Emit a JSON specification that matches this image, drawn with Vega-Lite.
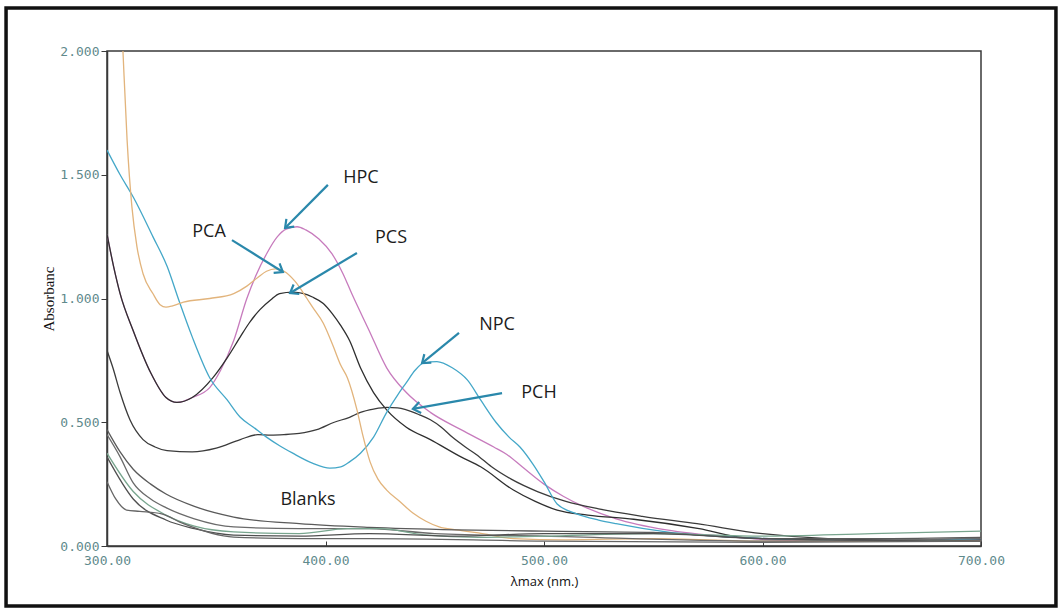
{
  "$schema": "https://vega.github.io/schema/vega-lite/v6.json",
  "width": 874,
  "height": 495,
  "autosize": {"type": "pad"},
  "padding": {"left": 4, "top": 6, "right": 4, "bottom": 6},
  "background": "white",
  "config": {
    "view": {"stroke": "#3a3a3a", "strokeWidth": 1.5},
    "axis": {"grid": false, "domainColor": "#3a3a3a", "tickColor": "#3a3a3a", "domainWidth": 1.5}
  },
  "datasets": {
    "spectra": [
      {"s": "HPC", "nm": 300, "a": 1.26}, {"s": "HPC", "nm": 303, "a": 1.13}, {"s": "HPC", "nm": 306, "a": 1.02}, {"s": "HPC", "nm": 312, "a": 0.87}, {"s": "HPC", "nm": 320, "a": 0.70}, {"s": "HPC", "nm": 327, "a": 0.60}, {"s": "HPC", "nm": 332, "a": 0.58}, {"s": "HPC", "nm": 339, "a": 0.60}, {"s": "HPC", "nm": 347, "a": 0.64}, {"s": "HPC", "nm": 352, "a": 0.71}, {"s": "HPC", "nm": 358, "a": 0.83}, {"s": "HPC", "nm": 364, "a": 1.00}, {"s": "HPC", "nm": 368, "a": 1.09}, {"s": "HPC", "nm": 373, "a": 1.18}, {"s": "HPC", "nm": 378, "a": 1.25}, {"s": "HPC", "nm": 382, "a": 1.28}, {"s": "HPC", "nm": 387, "a": 1.29}, {"s": "HPC", "nm": 391, "a": 1.277}, {"s": "HPC", "nm": 397, "a": 1.24}, {"s": "HPC", "nm": 403, "a": 1.18}, {"s": "HPC", "nm": 408, "a": 1.10}, {"s": "HPC", "nm": 412, "a": 1.02}, {"s": "HPC", "nm": 420, "a": 0.87}, {"s": "HPC", "nm": 428, "a": 0.72}, {"s": "HPC", "nm": 437, "a": 0.62}, {"s": "HPC", "nm": 448, "a": 0.54}, {"s": "HPC", "nm": 462, "a": 0.47}, {"s": "HPC", "nm": 477, "a": 0.40}, {"s": "HPC", "nm": 483, "a": 0.37}, {"s": "HPC", "nm": 490, "a": 0.32}, {"s": "HPC", "nm": 500, "a": 0.25}, {"s": "HPC", "nm": 509, "a": 0.20}, {"s": "HPC", "nm": 518, "a": 0.16}, {"s": "HPC", "nm": 533, "a": 0.11}, {"s": "HPC", "nm": 556, "a": 0.065}, {"s": "HPC", "nm": 586, "a": 0.036}, {"s": "HPC", "nm": 607, "a": 0.024}, {"s": "HPC", "nm": 640, "a": 0.02}, {"s": "HPC", "nm": 670, "a": 0.02}, {"s": "HPC", "nm": 700, "a": 0.025},

      {"s": "PCS", "nm": 300, "a": 1.26}, {"s": "PCS", "nm": 303, "a": 1.13}, {"s": "PCS", "nm": 306, "a": 1.02}, {"s": "PCS", "nm": 312, "a": 0.87}, {"s": "PCS", "nm": 320, "a": 0.70}, {"s": "PCS", "nm": 327, "a": 0.60}, {"s": "PCS", "nm": 332, "a": 0.58}, {"s": "PCS", "nm": 339, "a": 0.60}, {"s": "PCS", "nm": 348.5, "a": 0.68}, {"s": "PCS", "nm": 355, "a": 0.76}, {"s": "PCS", "nm": 361, "a": 0.845}, {"s": "PCS", "nm": 365, "a": 0.90}, {"s": "PCS", "nm": 370, "a": 0.955}, {"s": "PCS", "nm": 375, "a": 0.995}, {"s": "PCS", "nm": 379, "a": 1.02}, {"s": "PCS", "nm": 385, "a": 1.026}, {"s": "PCS", "nm": 390, "a": 1.02}, {"s": "PCS", "nm": 394, "a": 1.006}, {"s": "PCS", "nm": 399, "a": 0.98}, {"s": "PCS", "nm": 403, "a": 0.94}, {"s": "PCS", "nm": 407, "a": 0.89}, {"s": "PCS", "nm": 411, "a": 0.83}, {"s": "PCS", "nm": 416, "a": 0.72}, {"s": "PCS", "nm": 422, "a": 0.62}, {"s": "PCS", "nm": 428, "a": 0.55}, {"s": "PCS", "nm": 437, "a": 0.48}, {"s": "PCS", "nm": 448, "a": 0.43}, {"s": "PCS", "nm": 462, "a": 0.36}, {"s": "PCS", "nm": 471, "a": 0.32}, {"s": "PCS", "nm": 486, "a": 0.226}, {"s": "PCS", "nm": 496, "a": 0.18}, {"s": "PCS", "nm": 506, "a": 0.145}, {"s": "PCS", "nm": 520, "a": 0.125}, {"s": "PCS", "nm": 541, "a": 0.108}, {"s": "PCS", "nm": 571, "a": 0.07}, {"s": "PCS", "nm": 591, "a": 0.035}, {"s": "PCS", "nm": 620, "a": 0.025}, {"s": "PCS", "nm": 660, "a": 0.02}, {"s": "PCS", "nm": 700, "a": 0.025},

      {"s": "PCH", "nm": 300, "a": 0.79}, {"s": "PCH", "nm": 302.7, "a": 0.72}, {"s": "PCH", "nm": 306, "a": 0.62}, {"s": "PCH", "nm": 310.5, "a": 0.51}, {"s": "PCH", "nm": 316.5, "a": 0.43}, {"s": "PCH", "nm": 322, "a": 0.40}, {"s": "PCH", "nm": 327.5, "a": 0.385}, {"s": "PCH", "nm": 339, "a": 0.38}, {"s": "PCH", "nm": 350, "a": 0.395}, {"s": "PCH", "nm": 361, "a": 0.43}, {"s": "PCH", "nm": 369, "a": 0.45}, {"s": "PCH", "nm": 375, "a": 0.448}, {"s": "PCH", "nm": 381, "a": 0.45}, {"s": "PCH", "nm": 388, "a": 0.455}, {"s": "PCH", "nm": 396, "a": 0.47}, {"s": "PCH", "nm": 404, "a": 0.50}, {"s": "PCH", "nm": 411, "a": 0.52}, {"s": "PCH", "nm": 416, "a": 0.54}, {"s": "PCH", "nm": 422, "a": 0.553}, {"s": "PCH", "nm": 428, "a": 0.56}, {"s": "PCH", "nm": 433, "a": 0.558}, {"s": "PCH", "nm": 437, "a": 0.55}, {"s": "PCH", "nm": 443, "a": 0.53}, {"s": "PCH", "nm": 448, "a": 0.51}, {"s": "PCH", "nm": 453, "a": 0.48}, {"s": "PCH", "nm": 458, "a": 0.44}, {"s": "PCH", "nm": 464, "a": 0.40}, {"s": "PCH", "nm": 469, "a": 0.37}, {"s": "PCH", "nm": 476, "a": 0.32}, {"s": "PCH", "nm": 485, "a": 0.27}, {"s": "PCH", "nm": 497, "a": 0.22}, {"s": "PCH", "nm": 510, "a": 0.18}, {"s": "PCH", "nm": 525, "a": 0.15}, {"s": "PCH", "nm": 545, "a": 0.12}, {"s": "PCH", "nm": 570, "a": 0.09}, {"s": "PCH", "nm": 600, "a": 0.05}, {"s": "PCH", "nm": 630, "a": 0.03}, {"s": "PCH", "nm": 660, "a": 0.025}, {"s": "PCH", "nm": 700, "a": 0.03},

      {"s": "NPC", "nm": 300, "a": 1.60}, {"s": "NPC", "nm": 306, "a": 1.50}, {"s": "NPC", "nm": 312, "a": 1.41}, {"s": "NPC", "nm": 321, "a": 1.25}, {"s": "NPC", "nm": 327.5, "a": 1.13}, {"s": "NPC", "nm": 333, "a": 0.99}, {"s": "NPC", "nm": 339, "a": 0.845}, {"s": "NPC", "nm": 347, "a": 0.68}, {"s": "NPC", "nm": 355, "a": 0.59}, {"s": "NPC", "nm": 361, "a": 0.52}, {"s": "NPC", "nm": 367, "a": 0.48}, {"s": "NPC", "nm": 373, "a": 0.44}, {"s": "NPC", "nm": 379, "a": 0.405}, {"s": "NPC", "nm": 385, "a": 0.375}, {"s": "NPC", "nm": 394, "a": 0.335}, {"s": "NPC", "nm": 402, "a": 0.315}, {"s": "NPC", "nm": 407, "a": 0.32}, {"s": "NPC", "nm": 411, "a": 0.34}, {"s": "NPC", "nm": 416, "a": 0.375}, {"s": "NPC", "nm": 422, "a": 0.44}, {"s": "NPC", "nm": 428, "a": 0.54}, {"s": "NPC", "nm": 433, "a": 0.61}, {"s": "NPC", "nm": 437, "a": 0.66}, {"s": "NPC", "nm": 441, "a": 0.71}, {"s": "NPC", "nm": 445, "a": 0.74}, {"s": "NPC", "nm": 451, "a": 0.745}, {"s": "NPC", "nm": 458, "a": 0.72}, {"s": "NPC", "nm": 465, "a": 0.67}, {"s": "NPC", "nm": 471, "a": 0.59}, {"s": "NPC", "nm": 478, "a": 0.50}, {"s": "NPC", "nm": 484, "a": 0.44}, {"s": "NPC", "nm": 489, "a": 0.40}, {"s": "NPC", "nm": 495, "a": 0.33}, {"s": "NPC", "nm": 500, "a": 0.26}, {"s": "NPC", "nm": 506, "a": 0.17}, {"s": "NPC", "nm": 515, "a": 0.13}, {"s": "NPC", "nm": 525, "a": 0.105}, {"s": "NPC", "nm": 533, "a": 0.09}, {"s": "NPC", "nm": 556, "a": 0.057}, {"s": "NPC", "nm": 586, "a": 0.036}, {"s": "NPC", "nm": 620, "a": 0.025}, {"s": "NPC", "nm": 660, "a": 0.02}, {"s": "NPC", "nm": 700, "a": 0.03},

      {"s": "PCA", "nm": 305.3, "a": 2.4}, {"s": "PCA", "nm": 307.3, "a": 2.0}, {"s": "PCA", "nm": 309.2, "a": 1.64}, {"s": "PCA", "nm": 311.4, "a": 1.37}, {"s": "PCA", "nm": 313.7, "a": 1.21}, {"s": "PCA", "nm": 316.5, "a": 1.10}, {"s": "PCA", "nm": 321, "a": 1.02}, {"s": "PCA", "nm": 324.3, "a": 0.975}, {"s": "PCA", "nm": 327, "a": 0.965}, {"s": "PCA", "nm": 330, "a": 0.97}, {"s": "PCA", "nm": 335, "a": 0.985}, {"s": "PCA", "nm": 347, "a": 1.0}, {"s": "PCA", "nm": 358, "a": 1.02}, {"s": "PCA", "nm": 364, "a": 1.05}, {"s": "PCA", "nm": 369, "a": 1.085}, {"s": "PCA", "nm": 373, "a": 1.11}, {"s": "PCA", "nm": 377, "a": 1.12}, {"s": "PCA", "nm": 381, "a": 1.11}, {"s": "PCA", "nm": 386, "a": 1.07}, {"s": "PCA", "nm": 391.5, "a": 1.0}, {"s": "PCA", "nm": 394, "a": 0.966}, {"s": "PCA", "nm": 399, "a": 0.90}, {"s": "PCA", "nm": 403.4, "a": 0.81}, {"s": "PCA", "nm": 407, "a": 0.73}, {"s": "PCA", "nm": 410, "a": 0.68}, {"s": "PCA", "nm": 414.4, "a": 0.55}, {"s": "PCA", "nm": 417, "a": 0.45}, {"s": "PCA", "nm": 420.4, "a": 0.34}, {"s": "PCA", "nm": 424, "a": 0.27}, {"s": "PCA", "nm": 428, "a": 0.226}, {"s": "PCA", "nm": 434, "a": 0.18}, {"s": "PCA", "nm": 440, "a": 0.133}, {"s": "PCA", "nm": 446, "a": 0.10}, {"s": "PCA", "nm": 452, "a": 0.077}, {"s": "PCA", "nm": 460, "a": 0.065}, {"s": "PCA", "nm": 470, "a": 0.053}, {"s": "PCA", "nm": 486, "a": 0.03}, {"s": "PCA", "nm": 510, "a": 0.025}, {"s": "PCA", "nm": 550, "a": 0.03}, {"s": "PCA", "nm": 600, "a": 0.02}, {"s": "PCA", "nm": 650, "a": 0.02}, {"s": "PCA", "nm": 700, "a": 0.02},

      {"s": "B1", "nm": 300, "a": 0.47}, {"s": "B1", "nm": 306, "a": 0.38}, {"s": "B1", "nm": 312, "a": 0.31}, {"s": "B1", "nm": 320, "a": 0.25}, {"s": "B1", "nm": 327, "a": 0.21}, {"s": "B1", "nm": 340, "a": 0.16}, {"s": "B1", "nm": 358, "a": 0.117}, {"s": "B1", "nm": 388, "a": 0.09}, {"s": "B1", "nm": 420, "a": 0.075}, {"s": "B1", "nm": 460, "a": 0.065}, {"s": "B1", "nm": 500, "a": 0.06}, {"s": "B1", "nm": 550, "a": 0.055}, {"s": "B1", "nm": 600, "a": 0.03}, {"s": "B1", "nm": 650, "a": 0.03}, {"s": "B1", "nm": 700, "a": 0.035},
      {"s": "B2", "nm": 300, "a": 0.45}, {"s": "B2", "nm": 306, "a": 0.36}, {"s": "B2", "nm": 312, "a": 0.255}, {"s": "B2", "nm": 320, "a": 0.19}, {"s": "B2", "nm": 327, "a": 0.155}, {"s": "B2", "nm": 340, "a": 0.11}, {"s": "B2", "nm": 358, "a": 0.077}, {"s": "B2", "nm": 388, "a": 0.07}, {"s": "B2", "nm": 420, "a": 0.07}, {"s": "B2", "nm": 450, "a": 0.05}, {"s": "B2", "nm": 500, "a": 0.04}, {"s": "B2", "nm": 600, "a": 0.02}, {"s": "B2", "nm": 700, "a": 0.03},
      {"s": "B3", "nm": 300, "a": 0.375}, {"s": "B3", "nm": 312, "a": 0.22}, {"s": "B3", "nm": 327, "a": 0.125}, {"s": "B3", "nm": 340, "a": 0.08}, {"s": "B3", "nm": 358, "a": 0.057}, {"s": "B3", "nm": 388, "a": 0.05}, {"s": "B3", "nm": 410, "a": 0.07}, {"s": "B3", "nm": 425, "a": 0.07}, {"s": "B3", "nm": 445, "a": 0.045}, {"s": "B3", "nm": 470, "a": 0.035}, {"s": "B3", "nm": 500, "a": 0.04}, {"s": "B3", "nm": 550, "a": 0.05}, {"s": "B3", "nm": 600, "a": 0.04}, {"s": "B3", "nm": 650, "a": 0.05}, {"s": "B3", "nm": 700, "a": 0.06},
      {"s": "B4", "nm": 300, "a": 0.36}, {"s": "B4", "nm": 312, "a": 0.19}, {"s": "B4", "nm": 327, "a": 0.105}, {"s": "B4", "nm": 340, "a": 0.07}, {"s": "B4", "nm": 358, "a": 0.044}, {"s": "B4", "nm": 388, "a": 0.04}, {"s": "B4", "nm": 420, "a": 0.05}, {"s": "B4", "nm": 460, "a": 0.04}, {"s": "B4", "nm": 500, "a": 0.05}, {"s": "B4", "nm": 550, "a": 0.05}, {"s": "B4", "nm": 600, "a": 0.03}, {"s": "B4", "nm": 700, "a": 0.02},
      {"s": "B5", "nm": 300, "a": 0.26}, {"s": "B5", "nm": 304, "a": 0.19}, {"s": "B5", "nm": 309, "a": 0.145}, {"s": "B5", "nm": 315, "a": 0.14}, {"s": "B5", "nm": 325, "a": 0.13}, {"s": "B5", "nm": 335, "a": 0.09}, {"s": "B5", "nm": 358, "a": 0.036}, {"s": "B5", "nm": 388, "a": 0.03}, {"s": "B5", "nm": 420, "a": 0.03}, {"s": "B5", "nm": 500, "a": 0.02}, {"s": "B5", "nm": 600, "a": 0.015}, {"s": "B5", "nm": 700, "a": 0.02}
    ],
    "arrows": [
      {"label": "HPC", "nm": 401.1, "a": 1.459, "nm2": 381.5, "a2": 1.285, "dir": 135},
      {"label": "PCA", "nm": 357.2, "a": 1.236, "nm2": 380.5, "a2": 1.107, "dir": 32},
      {"label": "PCS", "nm": 414.4, "a": 1.184, "nm2": 383.8, "a2": 1.022, "dir": 149},
      {"label": "NPC", "nm": 461.1, "a": 0.861, "nm2": 444.2, "a2": 0.739, "dir": 141},
      {"label": "PCH", "nm": 480.8, "a": 0.618, "nm2": 440.0, "a2": 0.554, "dir": 170}
    ],
    "labels": [
      {"text": "HPC", "nm": 416.2, "a": 1.487},
      {"text": "PCA", "nm": 346.7, "a": 1.269},
      {"text": "PCS", "nm": 430.0, "a": 1.244},
      {"text": "NPC", "nm": 478.5, "a": 0.893},
      {"text": "PCH", "nm": 497.7, "a": 0.618},
      {"text": "Blanks", "nm": 392.0, "a": 0.186}
    ],
    "frame": [{"id": "frame"}]
  },
  "layer": [
    {
      "data": {"name": "frame"},
      "mark": {"type": "rect", "fill": "transparent", "stroke": "#111111", "strokeWidth": 3.5, "clip": false},
      "encoding": {
        "x": {"datum": 253.8, "type": "quantitative", "scale": {"domain": [300, 700], "nice": false, "zero": false}},
        "x2": {"datum": 734.3},
        "y": {"datum": -0.2424, "type": "quantitative", "scale": {"domain": [0, 2], "nice": false, "zero": false}},
        "y2": {"datum": 2.1737}
      }
    },
    {
      "data": {"name": "spectra"},
      "mark": {"type": "line", "clip": true, "strokeWidth": 1.3, "interpolate": "monotone"},
      "encoding": {
        "x": {
          "field": "nm", "type": "quantitative",
          "scale": {"domain": [300, 700], "nice": false, "zero": false},
          "axis": {
            "title": "λmax (nm.)", "values": [300, 400, 500, 600, 700], "format": ".2f",
            "labelFont": "DejaVu Sans Mono", "labelFontSize": 13, "labelColor": "#5f8a8c", "labelFlush": false,
            "tickSize": -5, "labelPadding": 13,
            "titleFont": "Open Sans", "titleFontSize": 13, "titleFontWeight": "normal", "titleColor": "#111111", "titlePadding": 8
          }
        },
        "y": {
          "field": "a", "type": "quantitative",
          "scale": {"domain": [0, 2], "nice": false, "zero": false},
          "axis": {
            "title": "Absorbanc", "values": [0, 0.5, 1, 1.5, 2], "format": ".3f",
            "labelFont": "DejaVu Sans Mono", "labelFontSize": 13, "labelColor": "#5f8a8c", "labelFlush": false,
            "tickSize": 6, "labelPadding": 2,
            "titleFont": "Liberation Serif", "titleFontSize": 15, "titleFontWeight": "normal", "titleColor": "#111111", "titlePadding": 3
          }
        },
        "color": {
          "field": "s", "type": "nominal", "legend": null,
          "scale": {
            "domain": ["HPC", "PCS", "PCH", "NPC", "PCA", "B1", "B2", "B3", "B4", "B5"],
            "range": ["#c77bbd", "#2f2f2f", "#3b3b3b", "#44a7c8", "#e2b47c", "#5a5a5a", "#6a6a6a", "#78a58e", "#505050", "#666666"]
          }
        },
        "detail": {"field": "s"}
      }
    },
    {
      "data": {"name": "arrows"},
      "mark": {"type": "rule", "color": "#2a88ab", "strokeWidth": 2.2},
      "encoding": {
        "x": {"field": "nm", "type": "quantitative"},
        "y": {"field": "a", "type": "quantitative"},
        "x2": {"field": "nm2"},
        "y2": {"field": "a2"}
      }
    },
    {
      "data": {"name": "arrows"},
      "mark": {"type": "point", "shape": "M -1 -0.75 L 0 0 L -1 0.75", "filled": false, "stroke": "#2a88ab", "strokeWidth": 2.2, "size": 220, "opacity": 1},
      "encoding": {
        "x": {"field": "nm2", "type": "quantitative"},
        "y": {"field": "a2", "type": "quantitative"},
        "angle": {"field": "dir", "type": "quantitative", "scale": null}
      }
    },
    {
      "data": {"name": "labels"},
      "mark": {"type": "text", "font": "Open Sans", "fontSize": 18, "color": "#1c1c1c", "align": "center", "baseline": "middle"},
      "encoding": {
        "x": {"field": "nm", "type": "quantitative"},
        "y": {"field": "a", "type": "quantitative"},
        "text": {"field": "text"}
      }
    }
  ]
}
